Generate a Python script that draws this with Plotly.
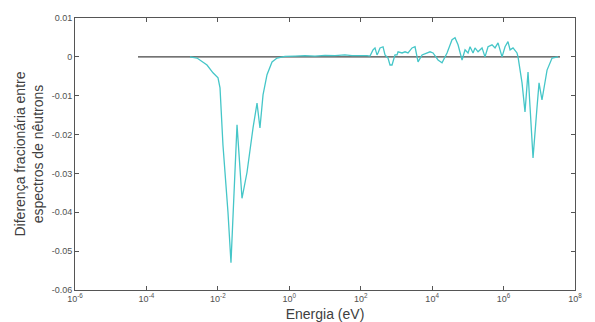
import plotly.graph_objects as go

# Energy (eV) and fractional difference
energy = [1.66e-3, 2.61e-3, 4.97e-3, 7.31e-3, 1.01e-2, 1.15e-2, 1.39e-2, 1.92e-2, 2.33e-2, 2.65e-2,
          3.44e-2, 4.74e-2, 6.56e-2, 9.66e-2, 0.125, 0.151, 0.184, 0.238, 0.329, 0.454,
          0.76, 1.45, 2.75, 5.25, 10, 19, 36, 57, 95, 150, 182,
          221, 251, 286, 305, 347, 422, 479, 582, 661, 753, 912, 1040, 1110, 1436, 1742, 2113,
          2735, 3319, 4027, 5212, 7194, 8730, 10590, 14620, 18920, 26120, 36060, 43750, 53090,
          68710, 83370, 101200, 115100, 139600, 158500, 192800, 249500, 302000, 367300, 475300,
          576800, 699800, 906000, 1.10e6, 1.33e6, 1.52e6, 1.84e6, 2.38e6, 2.54e6, 3.29e6, 3.98e6,
          4.84e6, 5.51e6, 6.68e6, 8.65e6, 9.84e6, 1.19e7, 1.65e7, 2.28e7, 3.35e7]
diff = [0.0, -0.0003, -0.0021, -0.0041, -0.0054, -0.0080, -0.0227, -0.0400, -0.0530, -0.0400,
        -0.0175, -0.0364, -0.0297, -0.0183, -0.0119, -0.0183, -0.0098, -0.0046, -0.0013, -0.0003,
        0.0001, 0.0002, 0.0003, 0.0002, 0.0004, 0.0003, 0.0005, 0.0003, 0.0004, 0.0003, 0.0002,
        0.0018, 0.0023, 0.0005, 0.0010, 0.0023, 0.0026, 0.0005, -0.0003, -0.0021, -0.0021, 0.0005,
        0.0005, 0.0013, 0.0010, 0.0013, 0.0010, 0.0023, 0.0026, -0.0013, 0.0005, 0.0010, 0.0013,
        0.0010, -0.0008, -0.0015, 0.0010, 0.0044, 0.0049, 0.0031, -0.0008, 0.0018, 0.0010,
        0.0026, 0.0010, 0.0023, 0.0013, 0.0023, 0.0000, 0.0026, 0.0031, 0.0023, 0.0036, 0.0000,
        0.0026, 0.0039, 0.0018, 0.0023, 0.0010, 0.0000, -0.0067, -0.0142, -0.0039, -0.0129,
        -0.0260, -0.0129, -0.0067, -0.0111, -0.0034, -0.0003, 0.0]

ref_energy = [5.8e-5, 3.8e7]
ref_diff = [0.0, 0.0]

x_tickvals = [1e-6, 1e-4, 1e-2, 1e0, 1e2, 1e4, 1e6, 1e8]
x_ticktext = ["10<sup>-6</sup>", "10<sup>-4</sup>", "10<sup>-2</sup>", "10<sup>0</sup>",
              "10<sup>2</sup>", "10<sup>4</sup>", "10<sup>6</sup>", "10<sup>8</sup>"]
y_tickvals = [0.01, 0, -0.01, -0.02, -0.03, -0.04, -0.05, -0.06]
y_ticktext = ["0.01", "0", "-0.01", "-0.02", "-0.03", "-0.04", "-0.05", "-0.06"]

fig = go.Figure()
fig.add_trace(go.Scatter(x=ref_energy, y=ref_diff, mode="lines",
                         line=dict(color="#444444", width=1.2), showlegend=False))
fig.add_trace(go.Scatter(x=energy, y=diff, mode="lines",
                         line=dict(color="#45c6c8", width=1.3), showlegend=False))

axis_common = dict(showline=True, linecolor="#555555", linewidth=1, mirror="ticks",
                   ticks="inside", ticklen=4, tickcolor="#555555", showgrid=False,
                   zeroline=False, automargin=False,
                   tickfont=dict(family="Liberation Sans, Arial", size=9, color="#505050"))

fig.update_xaxes(type="log", range=[-6, 8], tickvals=x_tickvals, ticktext=x_ticktext,
                 title=dict(text="Energia (eV)", standoff=7,
                            font=dict(family="Liberation Sans, Arial", size=14, color="#404040")),
                 **axis_common)
fig.update_yaxes(range=[-0.06, 0.01], tickvals=y_tickvals, ticktext=y_ticktext,
                 title=dict(text="Diferença fracionária entre<br>espectros de nêutrons", standoff=4,
                            font=dict(family="Liberation Sans, Arial", size=14, color="#404040")),
                 **axis_common)

fig.update_layout(width=595, height=322, margin=dict(l=75, r=20, t=18, b=32),
                  plot_bgcolor="white", paper_bgcolor="white")

fig.write_html("out.html", config={"displayModeBar": False},
               post_script="document.body.style.margin='0';document.body.style.overflow='hidden';")
